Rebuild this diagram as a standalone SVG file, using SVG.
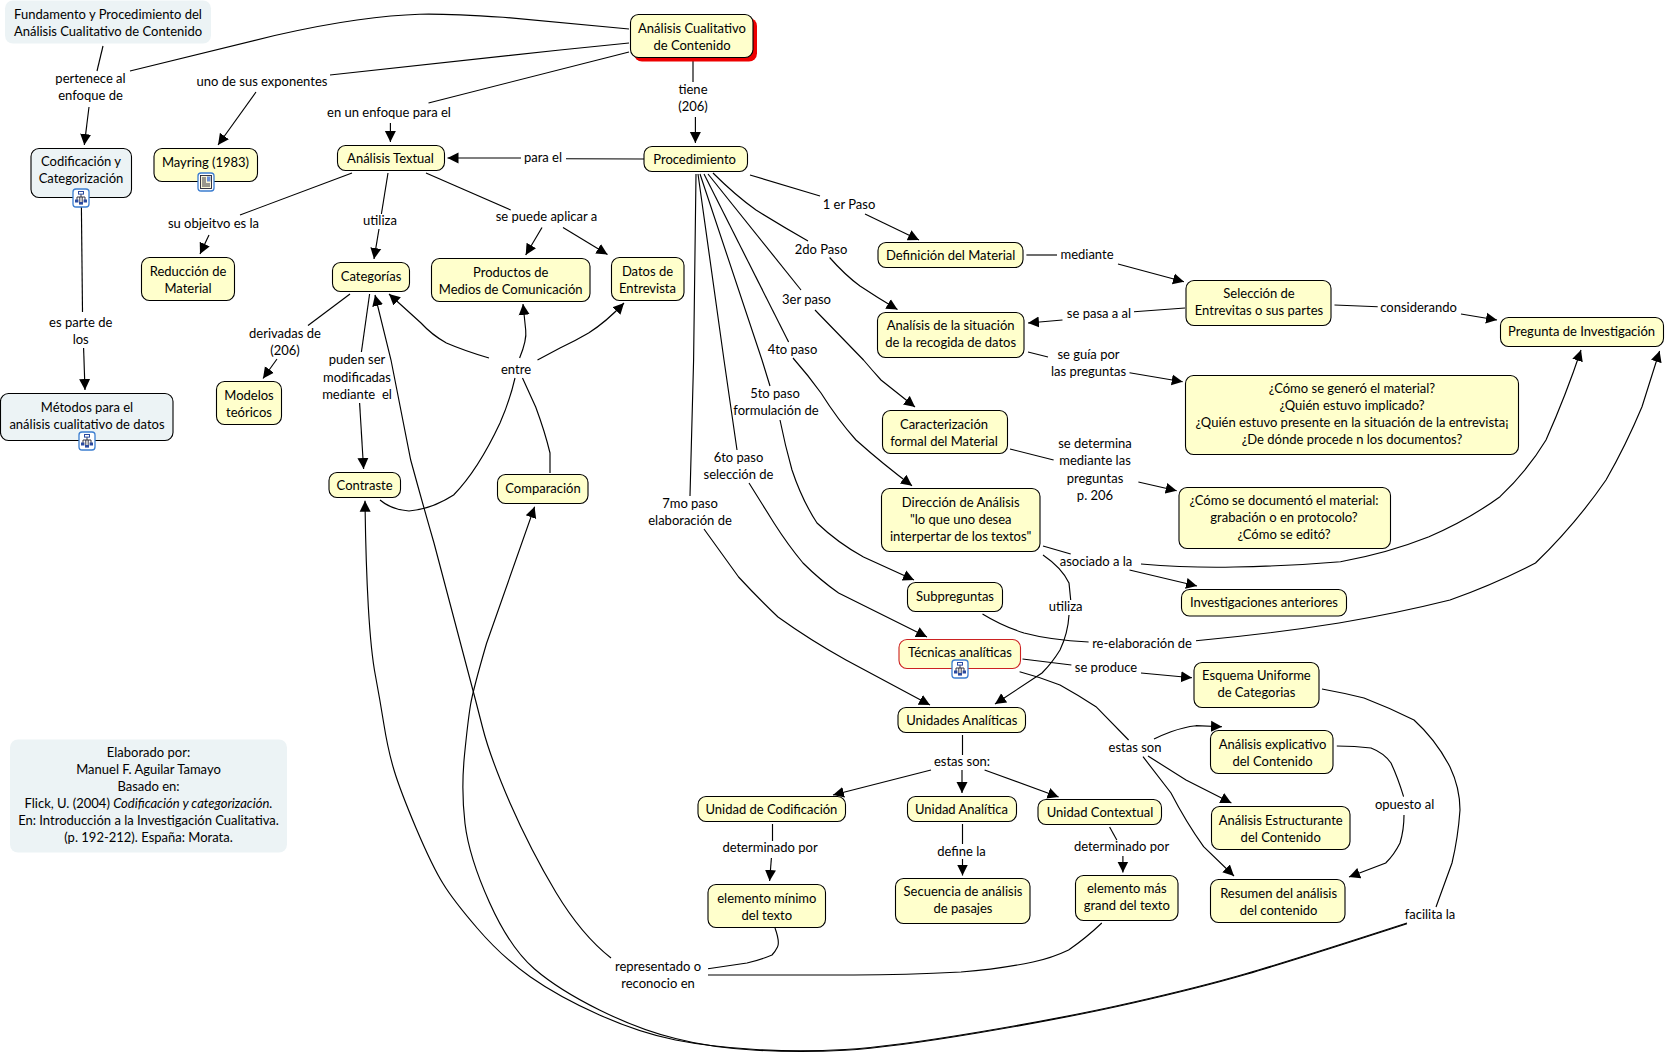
<svg xmlns="http://www.w3.org/2000/svg" width="1666" height="1056" viewBox="0 0 1666 1056">
<style>
text{font-family:"Lato","Open Sans","Liberation Sans",sans-serif;font-size:13px;fill:#000;text-anchor:middle}
.n{fill:#ffc;stroke:#000;stroke-width:1.1}
.b{fill:#ecf3f5;stroke:#000;stroke-width:1.1}
.p{fill:#ecf3f5}
.c path{fill:none;stroke:#000;stroke-width:1.15}
.a{marker-end:url(#h)}
</style>
<defs>
<marker id="h" markerWidth="13" markerHeight="13" refX="11" refY="6" orient="auto" markerUnits="userSpaceOnUse"><path d="M0,0.5 L11,6 L0,11.5z" fill="#000"/></marker>
<g id="ic"><rect x="-8" y="-9" width="16" height="18" rx="3" fill="#fff" stroke="#3b7dd0" stroke-width="1.3"/><path d="M0,-4V-1M-4,2V-1H4V2M-1.2,-1V4M1.2,-1V4" fill="none" stroke="#223" stroke-width=".9"/><rect x="-2.5" y="-6.5" width="5" height="2.6" fill="#fff" stroke="#2a4aa0"/><rect x="-6" y="1.5" width="3.4" height="3" fill="#2a4aa0"/><rect x="2.6" y="1.5" width="3.4" height="3" fill="#2a4aa0"/><rect x="-2" y="4" width="4" height="2.6" fill="#2a4aa0"/></g>
<g id="doc"><rect x="-8" y="-9" width="16" height="18" rx="3" fill="#fff" stroke="#3b7dd0" stroke-width="1.3"/><rect x="-5.5" y="-6.5" width="11" height="13" fill="#fbf6d8" stroke="#223" stroke-width=".9"/><path d="M-4,-4H0M-4,-2H0M-4,0H0M-4,2H4M-4,4H4" stroke="#223" stroke-width=".9"/><rect x="1" y="-5.5" width="3.5" height="5" fill="#6a8fd8"/></g>
</defs>
<g id="connectors" class="c">
<path d="M103 46L97 71"/>
<path class="a" d="M89 107L84.3 145"/>
<path d="M81.4 207L82.5 312"/>
<path class="a" d="M83.6 348L85 390"/>
<path d="M629 29L503 17.2Q446 13.5 419.5 14.2Q393 15 357 20Q321 25 274.7 35.5L130 71"/>
<path d="M629 43L560 50L330 75"/>
<path class="a" d="M256 92L218 145"/>
<path d="M629 52L428.5 103"/>
<path class="a" d="M390.4 123V142"/>
<path d="M693 61V82"/>
<path class="a" d="M695.4 117V143"/>
<path d="M644 159L566 158.7"/>
<path class="a" d="M521 158H447.5"/>
<path d="M352 173L240 215"/>
<path class="a" d="M209 235L200 254"/>
<path d="M388 173L381.4 214"/>
<path class="a" d="M379 229L374 259"/>
<path d="M426 173L510.7 210"/>
<path class="a" d="M542 227.5L525.7 255"/>
<path class="a" d="M563 227.5L607.5 254.5"/>
<path d="M350 294L308 325.5"/>
<path class="a" d="M277 359L263 378.5"/>
<path d="M369.6 294L361.4 352"/>
<path class="a" d="M359.6 403L363.6 469"/>
<path class="a" d="M611 958Q581.6 935 556 892.5Q530.6 850 510 803Q490 756.7 482.7 728L475.5 700Q455 621.5 434 543Q422 501.5 410.7 460Q401 410 391 360L375 295"/>
<path class="a" d="M1407 923Q1293 960 1246.5 973.5Q1200 987 1134 1002Q1068.6 1017 979 1032Q890 1047 845 1049.5Q800.7 1052 756 1049.5Q711 1047 675.5 1040Q640 1033 599.5 1015Q559 997 530.5 977Q502 957 477.5 928.5Q453 900 443 883.5Q432.6 867 416 828Q400 790 394 770Q388 750 384 725Q380 700 375.5 676Q371 653 368.3 606.5Q365.7 560 365 500.7"/>
<path class="a" d="M1407 923.7Q1293 960.7 1246.5 974.2Q1200 987.7 1134 1002.7Q1068.6 1017.7 979 1032.7Q890 1047.7 845 1050.2Q800.7 1052.7 756 1050.2Q711 1047.7 675.5 1038.5Q640 1030 599.5 1010Q559 990 534.5 969Q510 948 489.5 902.5Q469 857 465 823.5Q461 790 464.5 755Q468 720 470.5 705Q473 690 486.5 643.5L534.6 506.7"/>
<path class="a" d="M489 358Q465 351 446.4 343Q432 335 421 323L389 294"/>
<path class="a" d="M519.6 358Q527 340 525.7 330L523 304"/>
<path class="a" d="M537.5 360L560 348Q575 341 588.6 333Q606 322 624 303"/>
<path d="M380 500Q392 510 409 511Q432 509 453.6 495Q478 470 500 423Q510 400 515 378"/>
<path d="M550 473V453Q545 432 535.7 407L522.5 378"/>
<path d="M750 175L820 196"/>
<path class="a" d="M865 214L919 240"/>
<path d="M713 173Q735 195 756 210Q780 225 808 241"/>
<path class="a" d="M829.6 257.5Q845 275 860 286Q878 298 897.5 309.5"/>
<path d="M708 174L801 290"/>
<path class="a" d="M815 310L863.5 360Q872 370 881 380L915 407"/>
<path d="M704 174L788.6 342"/>
<path class="a" d="M793 358Q808 375 821 393Q838 420 856 440Q884 465 912 485.7"/>
<path d="M700 174L762 360L770 386"/>
<path class="a" d="M780 420Q785 445 792 470Q802 500 817 523Q838 543 863.5 557L914 580"/>
<path d="M698 174L724 360L737 450"/>
<path class="a" d="M749 483L774 523Q788 545 803 563Q820 580 838.6 593L927 637"/>
<path d="M696 174L693.6 360L690 496"/>
<path class="a" d="M704 529L738.6 577Q758 598 778 617Q810 640 846 660L930 705"/>
<path d="M1026.4 255H1057"/>
<path class="a" d="M1118 264L1184 281.7"/>
<path d="M1185 308L1134 311.7"/>
<path class="a" d="M1062.5 320L1028 323"/>
<path d="M1028 352L1048 357"/>
<path class="a" d="M1129.5 372.7L1182.7 381.7"/>
<path d="M1334.5 305L1377.7 306.7"/>
<path class="a" d="M1461 314L1497 320"/>
<path d="M1010 449L1053.6 460"/>
<path class="a" d="M1138.4 482L1176.7 490.7"/>
<path d="M1043 546L1070.7 554"/>
<path class="a" d="M1129.5 570L1197 586"/>
<path class="a" d="M1141 564Q1190 568 1234 567Q1290 566 1340.5 561.7Q1388 553 1429 536.7Q1468 520 1500 496.7Q1528 470 1546 440Q1566 395 1581 350"/>
<path d="M982.5 614Q1002 626 1024 633Q1050 640 1088.6 642"/>
<path class="a" d="M1196 640.7Q1270 634 1339 623Q1398 613 1450 600Q1495 584 1535.5 563Q1575 525 1606 480Q1626 445 1642 406.7L1659.6 351"/>
<path d="M1043 555Q1062 568 1069 583L1070.7 600"/>
<path class="a" d="M1069 615Q1068 633 1060 650Q1052 663 1042 673L995 704"/>
<path d="M1022.5 659L1071.4 665"/>
<path class="a" d="M1141 673L1192 677.7"/>
<path d="M1019.6 671.7Q1040 677 1060 685Q1078 695 1096 706.7L1128.6 740"/>
<path class="a" d="M1154 739Q1162 735 1171 731.7Q1184 727 1196 725.7L1222 726.7"/>
<path class="a" d="M1148 756L1186 780L1231.4 803"/>
<path class="a" d="M1143 756.7L1171 793Q1186 822 1203.6 846.7L1234 876"/>
<path d="M1336.8 746Q1355 746 1371 748Q1384 753 1391 763Q1398 778 1403.6 796.7"/>
<path class="a" d="M1404 815Q1404 830 1400 843Q1394 855 1385.7 863L1349 877"/>
<path d="M1322 689Q1344 693 1364 698Q1390 708 1414 720Q1436 740 1450 767Q1460 788 1460 810Q1458 838 1452 863L1436 907"/>
<path d="M962.5 735V755"/>
<path class="a" d="M931 770L833 795"/>
<path class="a" d="M962 770V793"/>
<path class="a" d="M984.6 770L1058.6 797"/>
<path d="M772.5 824V841"/>
<path class="a" d="M771.4 858L769.6 881"/>
<path d="M962.5 824V844"/>
<path class="a" d="M962.5 859V875.5"/>
<path d="M1109.6 827L1116.8 840"/>
<path class="a" d="M1122.9 856V872.5"/>
<path d="M775 928Q780 942 777.5 947Q775 952 772 955Q760 960 747 963L708 968.7"/>
<path d="M1101.8 923Q1086 938 1068.6 950Q1052 958 1033 962Q1000 969 961 972Q905 975 854 975H708"/>
</g>
<g id="n1"><rect class="p" x="5" y="0.5" width="206" height="43" rx="8"/><text x="108" y="19">Fundamento y Procedimiento del</text><text x="108" y="36">Análisis Cualitativo de Contenido</text></g>
<g id="n2"><rect x="634" y="18" width="123" height="43.5" rx="8" fill="#e00"/><rect class="n" x="630.5" y="14.5" width="122.5" height="43" rx="8"/><text x="692" y="33">Análisis Cualitativo</text><text x="692" y="50">de Contenido</text></g>
<g id="n3"><rect class="b" x="31" y="148.5" width="100.5" height="49" rx="8"/><text x="81" y="166">Codificación y</text><text x="81" y="183">Categorización</text><use href="#ic" x="81" y="198"/></g>
<g id="n4"><rect class="n" x="154" y="148.5" width="103.5" height="33" rx="8"/><text x="205.5" y="167">Mayring (1983)</text><use href="#doc" x="206" y="182"/></g>
<g id="n5"><rect class="n" x="337.5" y="145.5" width="107" height="25" rx="8"/><text x="390.5" y="163">Análisis Textual</text></g>
<g id="n6"><rect class="n" x="644" y="146.5" width="103.5" height="25" rx="8"/><text x="694.6" y="164">Procedimiento</text></g>
<g id="n7"><rect class="n" x="141.5" y="257.5" width="93" height="43" rx="8"/><text x="188" y="276">Reducción de</text><text x="188" y="293">Material</text></g>
<g id="n8"><rect class="n" x="332.5" y="262.5" width="77" height="29" rx="8"/><text x="371" y="281">Categorías</text></g>
<g id="n9"><rect class="n" x="431.5" y="258.5" width="158.5" height="43" rx="8"/><text x="510.7" y="277">Productos de</text><text x="510.7" y="294">Medios de Comunicación</text></g>
<g id="n10"><rect class="n" x="611.5" y="257.5" width="72.5" height="43" rx="8"/><text x="647.5" y="276">Datos de</text><text x="647.5" y="293">Entrevista</text></g>
<g id="n11"><rect class="n" x="878" y="242.5" width="145" height="25" rx="8"/><text x="950.7" y="260">Definición del Material</text></g>
<g id="n12"><rect class="n" x="877.5" y="312.5" width="146.5" height="45" rx="8"/><text x="950.7" y="330">Analísis de la situación</text><text x="950.7" y="347">de la recogida de datos</text></g>
<g id="n13"><rect class="n" x="1186" y="280.5" width="145" height="45" rx="8"/><text x="1259" y="298">Selección de</text><text x="1259" y="315">Entrevitas o sus partes</text></g>
<g id="n14"><rect class="n" x="1500.5" y="317.5" width="163" height="29" rx="8"/><text x="1581.6" y="336">Pregunta de Investigación</text></g>
<g id="n15"><rect class="n" x="1185.5" y="375.5" width="333" height="79" rx="8"/><text x="1352" y="393">¿Cómo se generó el material?</text><text x="1352" y="410">¿Quién estuvo implicado?</text><text x="1352" y="427">¿Quién estuvo presente en la situación de la entrevista¡</text><text x="1352" y="444">¿De dónde procede n los documentos?</text></g>
<g id="n16"><rect class="n" x="1179" y="487.5" width="211.5" height="61" rx="8"/><text x="1284" y="505">¿Cómo se documentó el material:</text><text x="1284" y="522">grabación o en protocolo?</text><text x="1284" y="539">¿Cómo se editó?</text></g>
<g id="n17"><rect class="n" x="1181.5" y="589.5" width="165" height="26.5" rx="8"/><text x="1264" y="607">Investigaciones anteriores</text></g>
<g id="n18"><rect class="b" x="0.5" y="393.5" width="172.5" height="47" rx="8"/><text x="87" y="412">Métodos para el</text><text x="87" y="429">análisis cualitativo de datos</text><use href="#ic" x="87" y="441"/></g>
<g id="n19"><rect class="n" x="216.5" y="381.5" width="65" height="43" rx="8"/><text x="249" y="400">Modelos</text><text x="249" y="417">teóricos</text></g>
<g id="n20"><rect class="n" x="329" y="472.5" width="71.5" height="25" rx="8"/><text x="364.6" y="490">Contraste</text></g>
<g id="n21"><rect class="n" x="497.5" y="474.5" width="90.5" height="29" rx="8"/><text x="543" y="493">Comparación</text></g>
<g id="n22"><rect class="n" x="882.5" y="410.5" width="125" height="43" rx="8"/><text x="944" y="429">Caracterización</text><text x="944" y="446">formal del Material</text></g>
<g id="n23"><rect class="n" x="881.5" y="488.5" width="158.5" height="63" rx="8"/><text x="960.7" y="507">Dirección de Análisis</text><text x="960.7" y="524">"lo que uno desea</text><text x="960.7" y="541">interpertar de los textos"</text></g>
<g id="n24"><rect class="n" x="907.5" y="582.5" width="95" height="29" rx="8"/><text x="955" y="601">Subpreguntas</text></g>
<g id="n25"><rect x="899" y="639.5" width="121.5" height="29" rx="8" fill="#ffc" stroke="#c22" stroke-width="1.1"/><text x="960" y="657">Técnicas analíticas</text><use href="#ic" x="960" y="669"/></g>
<g id="n26"><rect class="n" x="898" y="707.5" width="127.5" height="25" rx="8"/><text x="961.8" y="725">Unidades Analíticas</text></g>
<g id="n27"><rect class="n" x="698" y="796.5" width="147.5" height="25" rx="8"/><text x="771.4" y="814">Unidad de Codificación</text></g>
<g id="n28"><rect class="n" x="907.5" y="796.5" width="109" height="25" rx="8"/><text x="961.4" y="814">Unidad Analítica</text></g>
<g id="n29"><rect class="n" x="1038" y="799.5" width="123.5" height="25" rx="8"/><text x="1100" y="817">Unidad Contextual</text></g>
<g id="n30"><rect class="n" x="708" y="884.5" width="117.5" height="43" rx="8"/><text x="766.8" y="903">elemento mínimo</text><text x="766.8" y="920">del texto</text></g>
<g id="n31"><rect class="n" x="895.5" y="878.5" width="134.5" height="45" rx="8"/><text x="963" y="896">Secuencia de análisis</text><text x="963" y="913">de pasajes</text></g>
<g id="n32"><rect class="n" x="1075.5" y="875.5" width="102.5" height="45" rx="8"/><text x="1126.8" y="893">elemento más</text><text x="1126.8" y="910">grand del texto</text></g>
<g id="n33"><rect class="n" x="1194" y="662.5" width="125" height="45" rx="8"/><text x="1256.4" y="680">Esquema Uniforme</text><text x="1256.4" y="697">de Categorias</text></g>
<g id="n34"><rect class="n" x="1210.5" y="730.5" width="122.5" height="43" rx="8"/><text x="1272.5" y="749">Análisis explicativo</text><text x="1272.5" y="766">del Contenido</text></g>
<g id="n35"><rect class="n" x="1211.5" y="806.5" width="138.5" height="43" rx="8"/><text x="1280.7" y="825">Análisis Estructurante</text><text x="1280.7" y="842">del Contenido</text></g>
<g id="n36"><rect class="n" x="1210.5" y="879.5" width="134.5" height="43" rx="8"/><text x="1278.6" y="898">Resumen del análisis</text><text x="1278.6" y="915">del contenido</text></g>
<g id="n37"><rect class="p" x="10" y="739.5" width="277" height="113" rx="8"/><text x="148.5" y="757">Elaborado por:</text><text x="148.5" y="774">Manuel F. Aguilar Tamayo</text><text x="148.5" y="791">Basado en:</text><text x="148.5" y="808">Flick, U. (2004) <tspan font-style="italic">Codificación y categorización.</tspan></text><text x="148.5" y="825">En: Introducción a la Investigación Cualitativa.</text><text x="148.5" y="842">(p. 192-212). España: Morata.</text></g>
<g id="labels" transform="translate(0,-0.7)">
<text x="90.5" y="83.5">pertenece al</text><text x="90.5" y="100.5">enfoque de</text>
<text x="262" y="87">uno de sus exponentes</text>
<text x="389" y="117.5">en un enfoque para el</text>
<text x="543" y="163">para el</text>
<text x="693" y="95">tiene</text><text x="693" y="112">(206)</text>
<text x="213.5" y="229">su objeitvo es la</text>
<text x="380" y="226">utiliza</text>
<text x="546.5" y="222">se puede aplicar a</text>
<text x="285" y="339">derivadas de</text><text x="285" y="356">(206)</text>
<text x="357" y="365">puden ser</text><text x="357" y="382.5">modificadas</text><text x="357" y="399.5" style="white-space:pre">mediante  el</text>
<text x="80.7" y="327.5">es parte de</text><text x="80.7" y="344.5">los</text>
<text x="516" y="375">entre</text>
<text x="849" y="210">1 er Paso</text>
<text x="821" y="254.5">2do Paso</text>
<text x="806.5" y="305">3er paso</text>
<text x="792.5" y="355">4to paso</text>
<text x="775" y="398.5">5to paso</text><text x="776" y="415.5">formulación de</text>
<text x="738.5" y="462.5">6to paso</text><text x="738.5" y="480">selección de</text>
<text x="690" y="508.5">7mo paso</text><text x="690" y="525.5">elaboración de</text>
<text x="1087" y="260">mediante</text>
<text x="1099" y="318.5">se pasa a al</text>
<text x="1088.5" y="360">se guía por</text><text x="1088.5" y="377">las preguntas</text>
<text x="1418.5" y="313">considerando</text>
<text x="1095" y="449">se determina</text><text x="1095" y="466">mediante las</text><text x="1095" y="484">preguntas</text><text x="1095" y="500.5">p. 206</text>
<text x="1096" y="567">asociado a la</text>
<text x="1065.7" y="612">utiliza</text>
<text x="1142" y="649">re-elaboración de</text>
<text x="1106" y="673">se produce</text>
<text x="1135" y="753">estas son</text>
<text x="1404.6" y="809.5">opuesto al</text>
<text x="1430" y="920">facilita la</text>
<text x="962" y="767">estas son:</text>
<text x="770" y="853">determinado por</text>
<text x="961.5" y="856.5">define la</text>
<text x="1121.5" y="852">determinado por</text>
<text x="658" y="971.5">representado o</text><text x="658" y="988.5">reconocio en</text>
</g>
</svg>
